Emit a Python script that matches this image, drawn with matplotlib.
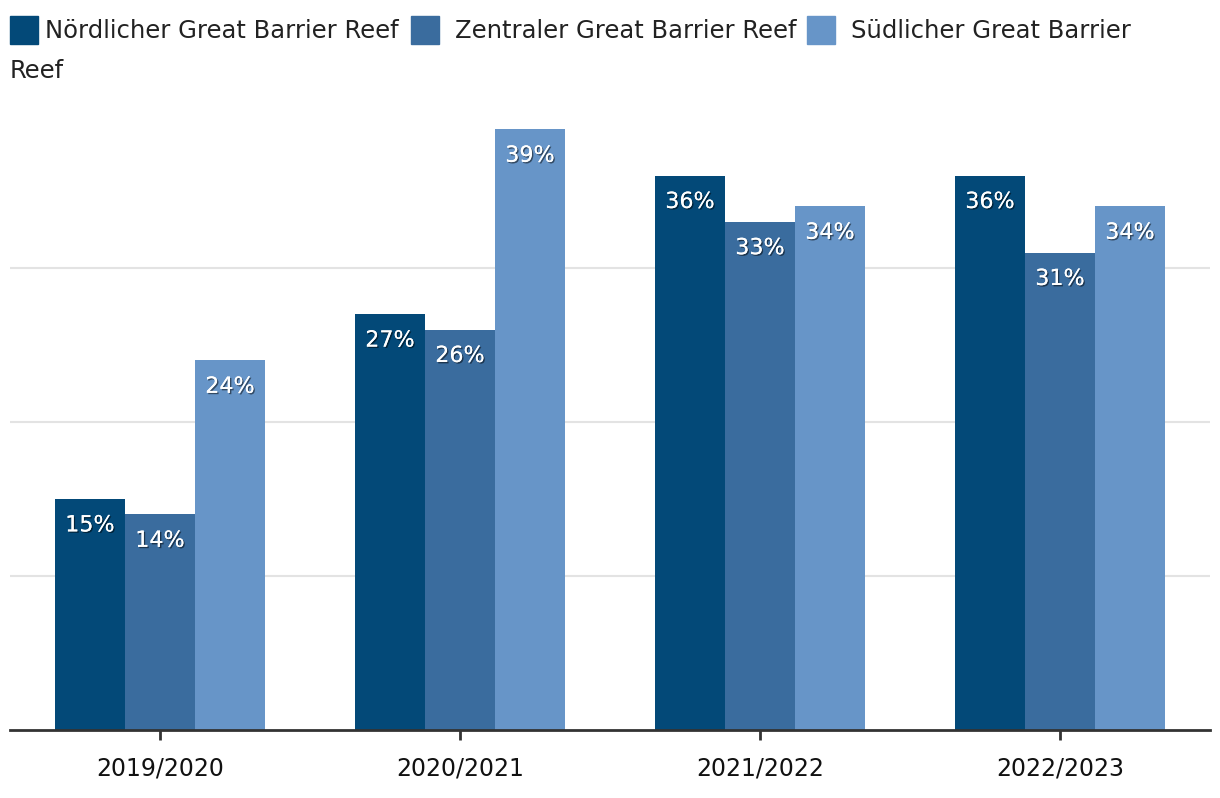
import numpy as np
import matplotlib.pyplot as plt
import matplotlib.patheffects as pe
from matplotlib.patches import Rectangle

# data
years = ['2019/2020', '2020/2021', '2021/2022', '2022/2023']
series_names = ['Nördlicher Great Barrier Reef', 'Zentraler Great Barrier Reef', 'Südlicher Great Barrier Reef']
north = [15, 27, 36, 36]
central = [14, 26, 33, 31]
south = [24, 39, 34, 34]

colors = ['#034978', '#3a6c9e', '#6795c8']
W, H = 1220, 798

plt.rcParams['font.family'] = ['DejaVu Sans']

fig = plt.figure(figsize=(W / 100, H / 100), dpi=100)
ax = fig.add_axes([10 / W, (H - 730) / H, 1200 / W, (730 - 114) / H])

x = np.arange(len(years))
bw = 0.7 / 3
shadow = [pe.withSimplePatchShadow(offset=(1, -1), shadow_rgbFace='black', alpha=0.5), pe.Normal()]
for i, vals in enumerate([north, central, south]):
    xs = x + (i - 1) * bw
    ax.bar(xs, vals, width=bw, color=colors[i], zorder=3)
    for xi, v in zip(xs, vals):
        ax.annotate(f'{v}%', (xi, v), xytext=(0, -19), textcoords='offset points',
                    ha='center', va='center', color='white', fontsize=16,
                    path_effects=shadow, zorder=4)

ax.set_xlim(-0.5, 3.5)
ax.set_ylim(0, 40)
ax.set_yticks([10, 20, 30])
ax.yaxis.grid(True, color='#e3e3e3', linewidth=1.5, zorder=0)
ax.tick_params(axis='y', left=False, labelleft=False)
ax.set_xticks(x)
ax.set_xticklabels(years, fontsize=17, color='#111111')
ax.tick_params(axis='x', length=7, width=2, color='#333333', pad=12)
for s in ['top', 'right', 'left']:
    ax.spines[s].set_visible(False)
ax.spines['bottom'].set_color('#333333')
ax.spines['bottom'].set_linewidth(2)
ax.spines['bottom'].set_zorder(5)

# legend (wraps like the original)
sq_x = [10, 411, 807]
tx_x = [45, 455, 851]
labels = [series_names[0], series_names[1], 'Südlicher Great Barrier']
for i in range(3):
    fig.patches.append(Rectangle((sq_x[i] / W, (H - 44) / H), 28 / W, 28 / H,
                                 transform=fig.transFigure, color=colors[i]))
    fig.text(tx_x[i] / W, (H - 31) / H, labels[i], fontsize=17.5, color='#222222',
             va='center', ha='left')
fig.text(10 / W, (H - 71) / H, 'Reef', fontsize=17.5, color='#222222', va='center', ha='left')

fig.savefig('out.png', dpi=100)
